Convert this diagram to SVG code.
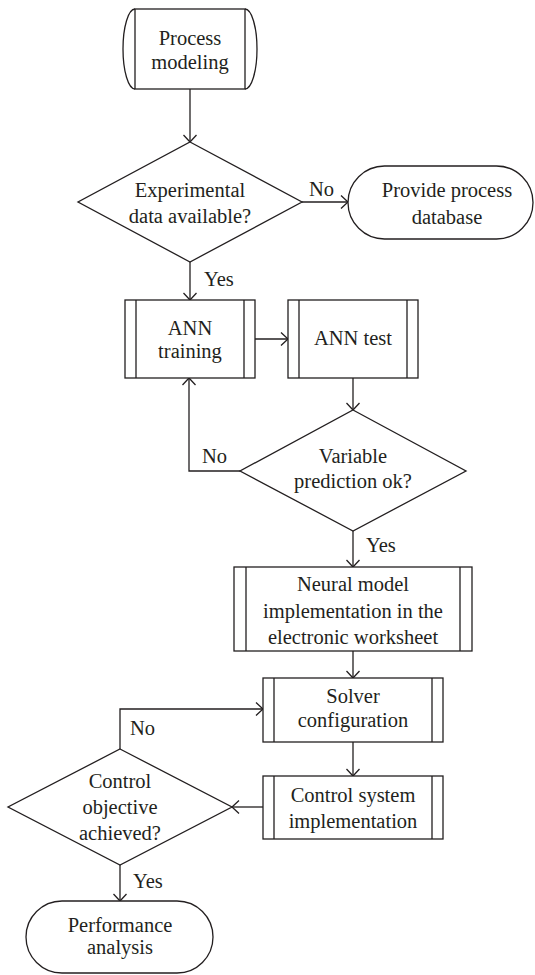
<svg xmlns="http://www.w3.org/2000/svg" width="535" height="975" viewBox="0 0 535 975">
<style>
.s{fill:#fff;stroke:#231f20;stroke-width:1.3}
.l{fill:none;stroke:#231f20;stroke-width:1.3}
text{font-family:'Liberation Serif','DejaVu Serif',serif;font-size:20.5px;fill:#231f20;text-anchor:middle}
.lb{text-anchor:start}
</style>
<defs>
<marker id="a" markerUnits="userSpaceOnUse" markerWidth="16" markerHeight="16" refX="8" refY="8" orient="auto" overflow="visible">
<path d="M1,1.5 L8,8 L1,14.5" fill="none" stroke="#231f20" stroke-width="1.3"/>
</marker>
</defs>
<rect width="535" height="975" fill="#fff"/>
<g id="connectors" font-family="Liberation Serif, DejaVu Serif, serif">
<path class="l" d="M190,89 V142" marker-end="url(#a)"/>
<path class="l" d="M302,202 H348" marker-end="url(#a)"/>
<path class="l" d="M190,262 V300" marker-end="url(#a)"/>
<path class="l" d="M255,339 H288" marker-end="url(#a)"/>
<path class="l" d="M353,378 V410" marker-end="url(#a)"/>
<path class="l" d="M240,471 H189 V378" marker-end="url(#a)"/>
<path class="l" d="M353,531 V567" marker-end="url(#a)"/>
<path class="l" d="M353,651 V678" marker-end="url(#a)"/>
<path class="l" d="M353,742 V776" marker-end="url(#a)"/>
<path class="l" d="M263,807 H232" marker-end="url(#a)"/>
<path class="l" d="M120,749 V709 H263" marker-end="url(#a)"/>
<path class="l" d="M120,865 V901" marker-end="url(#a)"/>
<text class="lb" x="309" y="196">No</text>
<text class="lb" x="204" y="286">Yes</text>
<text class="lb" x="202" y="463">No</text>
<text class="lb" x="366" y="552">Yes</text>
<text class="lb" x="130" y="735">No</text>
<text class="lb" x="133" y="888">Yes</text>
</g>
<g id="process-modeling">
<rect class="s" x="135" y="9" width="110" height="80"/>
<path class="l" d="M135,9 A12,40 0 0 0 135,89 M245,9 A12,40 0 0 1 245,89"/>
<text x="190" y="45">Process</text>
<text x="190" y="69">modeling</text>
</g>
<g id="experimental-data">
<polygon class="s" points="190,142 302,202 190,262 78,202"/>
<text x="190" y="197">Experimental</text>
<text x="190" y="223">data available?</text>
</g>
<g id="provide-database">
<rect class="s" x="348" y="166" width="185" height="73" rx="36.5"/>
<text x="447" y="197">Provide process</text>
<text x="447" y="224">database</text>
</g>
<g id="ann-training">
<rect class="s" x="125" y="300" width="130" height="78"/>
<path class="l" d="M136,300 V378 M244,300 V378"/>
<text x="190" y="335">ANN</text>
<text x="190" y="358">training</text>
</g>
<g id="ann-test">
<rect class="s" x="288" y="300" width="130" height="78"/>
<path class="l" d="M299,300 V378 M407,300 V378"/>
<text x="353" y="345">ANN test</text>
</g>
<g id="variable-prediction">
<polygon class="s" points="353,410 466,471 353,531 240,471"/>
<text x="353" y="463">Variable</text>
<text x="353" y="488">prediction ok?</text>
</g>
<g id="neural-model">
<rect class="s" x="234" y="567" width="238" height="84"/>
<path class="l" d="M246,567 V651 M460,567 V651"/>
<text x="353" y="591">Neural model</text>
<text x="353" y="618">implementation in the</text>
<text x="353" y="644">electronic worksheet</text>
</g>
<g id="solver-configuration">
<rect class="s" x="263" y="678" width="180" height="64"/>
<path class="l" d="M274,678 V742 M432,678 V742"/>
<text x="353" y="703">Solver</text>
<text x="353" y="727">configuration</text>
</g>
<g id="control-system">
<rect class="s" x="263" y="776" width="180" height="63"/>
<path class="l" d="M274,776 V839 M432,776 V839"/>
<text x="353" y="802">Control system</text>
<text x="353" y="828">implementation</text>
</g>
<g id="control-objective">
<polygon class="s" points="120,749 232,807 120,865 8,807"/>
<text x="120" y="788">Control</text>
<text x="120" y="814">objective</text>
<text x="120" y="840">achieved?</text>
</g>
<g id="performance-analysis">
<rect class="s" x="26" y="901" width="187" height="72" rx="36"/>
<text x="120" y="932">Performance</text>
<text x="120" y="954">analysis</text>
</g>
</svg>
